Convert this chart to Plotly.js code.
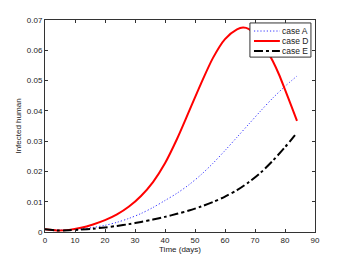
<!DOCTYPE html>
<html><head><meta charset="utf-8">
<script src="https://cdn.plot.ly/plotly-3.0.1.min.js"></script>
<style>html,body{margin:0;padding:0;background:#fff;}#chart{width:348px;height:261px;}</style>
</head><body><div id="chart"></div>
<script>
var daysAE = [0,4,8,12,16,20,24,28,32,36,40,44,48,52,56,60,64,68,72,76,80,84];
var caseA = [0.0009,0.0006,0.0007,0.0010,0.0015,0.0022,0.0032,0.0045,0.0061,0.0081,0.0104,0.0128,0.0156,0.0189,0.0227,0.0269,0.0313,0.0357,0.0401,0.0443,0.0481,0.0515];
var caseE = [0.0009,0.0005,0.0006,0.0008,0.0011,0.0015,0.0020,0.0026,0.0033,0.0041,0.0050,0.0060,0.0071,0.0084,0.0099,0.0117,0.0138,0.0165,0.0197,0.0236,0.0280,0.0328];
var daysD = [0,4,8,12,16,20,24,28,32,36,40,44,48,52,56,60,64,66,68,70,72,74,76,78,80,82,84];
var caseD = [0.0009,0.0005,0.0007,0.0014,0.0025,0.0039,0.0058,0.0084,0.0119,0.0165,0.0227,0.0307,0.0398,0.0490,0.0575,0.0637,0.0669,0.0675,0.0670,0.0652,0.0627,0.0598,0.0563,0.0520,0.0470,0.0419,0.0367];
var seriesNames = ['case A','case D','case E'];
var xTicks = [0,10,20,30,40,50,60,70,80,90];
var yTicks = [0,0.01,0.02,0.03,0.04,0.05,0.06,0.07];

var colors = ['#3333ff','#ff0000','#000000'];
var widths = [1, 2, 2];
var dashes = ['1.2px,2px','solid','dashdot'];
var xs = [daysAE, daysD, daysAE];
var ys = [caseA, caseD, caseE];
var FONT = 'Liberation Sans, Arial, sans-serif';

var traces = seriesNames.map(function(n, i){
  return {x: xs[i], y: ys[i], name: n, mode: 'lines', showlegend: false,
    line: {color: colors[i], width: widths[i], dash: dashes[i], shape: 'spline', smoothing: 0.8}};
});

// custom compact legend (MATLAB style)
var shapes = [{type: 'rect', xref: 'paper', yref: 'paper', x0: 0.759, x1: 0.985, y0: 0.825, y1: 0.986,
  fillcolor: '#fff', line: {color: '#333', width: 1}, layer: 'above'}];
var annotations = [];
var rowY = [0.948, 0.901, 0.854];
seriesNames.forEach(function(n, i){
  shapes.push({type: 'line', xref: 'paper', yref: 'paper', x0: 0.774, x1: 0.870, y0: rowY[i], y1: rowY[i],
    line: {color: colors[i], width: widths[i], dash: dashes[i]}, layer: 'above'});
  annotations.push({xref: 'paper', yref: 'paper', x: 0.870, y: rowY[i], xanchor: 'left', yanchor: 'middle',
    text: n, showarrow: false, font: {family: FONT, size: 8.5, color: '#222'}});
});

var axisCommon = {
  showgrid: false, zeroline: false, showline: true, linecolor: '#333', linewidth: 1,
  mirror: 'ticks', ticks: 'inside', ticklen: 3, tickcolor: '#333',
  tickfont: {family: FONT, size: 8, color: '#222'}
};
var layout = {
  width: 348, height: 261,
  margin: {l: 45, r: 33, t: 20, b: 29},
  paper_bgcolor: '#fff', plot_bgcolor: '#fff',
  showlegend: false,
  shapes: shapes, annotations: annotations,
  xaxis: Object.assign({}, axisCommon, {range: [0, 90], tickvals: xTicks,
    title: {text: 'Time (days)', font: {family: FONT, size: 8, color: '#222'}, standoff: 2}}),
  yaxis: Object.assign({}, axisCommon, {range: [0, 0.07], tickvals: yTicks,
    title: {text: 'Infected human', font: {family: FONT, size: 8, color: '#222'}, standoff: 4}})
};
Plotly.newPlot('chart', traces, layout, {displayModeBar: false, staticPlot: true});
</script></body></html>
